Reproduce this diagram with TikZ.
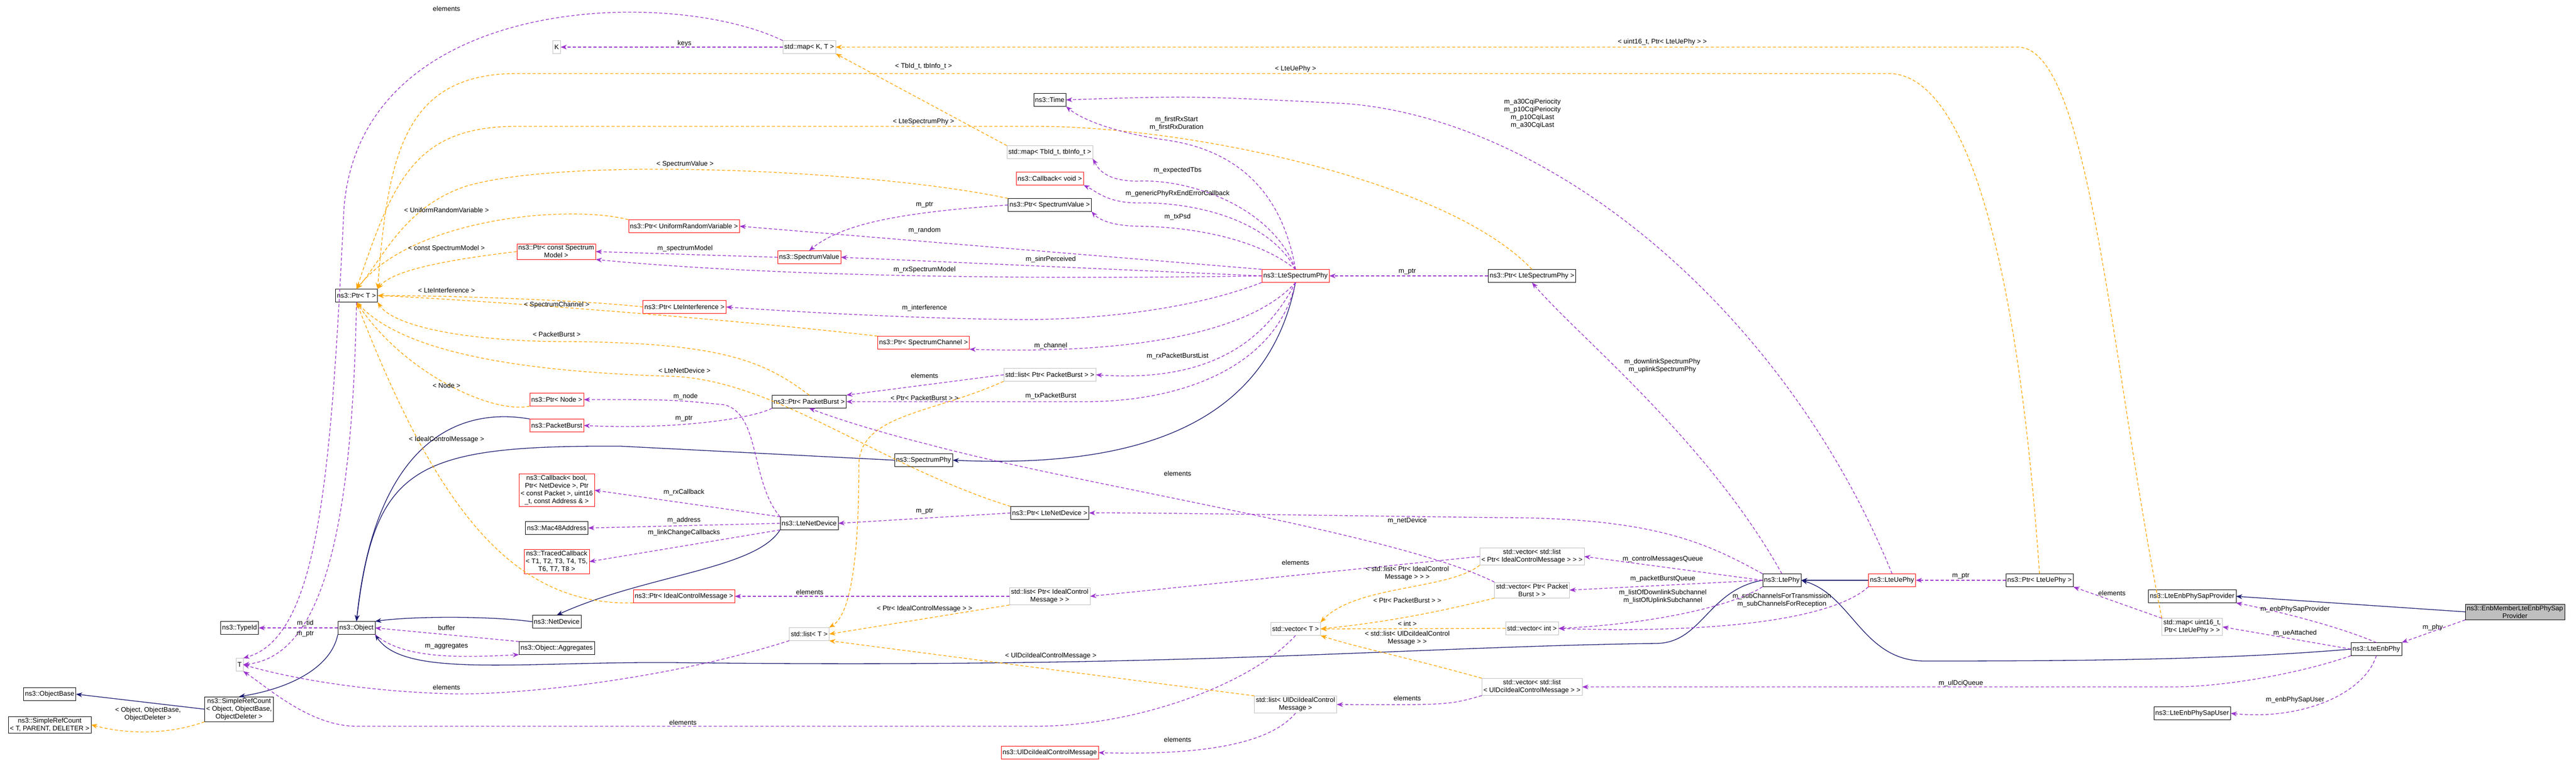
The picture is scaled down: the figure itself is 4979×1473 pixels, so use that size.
\documentclass[tikz,border=0pt]{standalone}
\usepackage{fontspec}
\setmainfont{Liberation Sans}
\usetikzlibrary{arrows.meta, positioning}
\definecolor{usecol}{HTML}{9A32CD}
\definecolor{tplcol}{HTML}{FFA500}
\definecolor{inhcol}{HTML}{191970}
\definecolor{grayline}{HTML}{BFBFBF}
\tikzset{
  cls/.style={draw=black, fill=white, inner sep=3pt, minimum height=25pt, align=center, font=\fontsize{13}{15}\selectfont},
  redcls/.style={cls, draw=red},
  tplcls/.style={cls, draw=grayline},
  focus/.style={cls, fill=grayline},
  lbl/.style={inner sep=0pt, align=center, font=\fontsize{13}{15}\selectfont},
  use/.style={draw=usecol, dash pattern=on 6pt off 4pt, line width=1.3pt, -{Stealth[length=12pt,width=9pt]}},
  tpl/.style={draw=tplcol, dash pattern=on 6pt off 4pt, line width=1.3pt, -{Stealth[length=12pt,width=9pt]}},
  inh/.style={draw=inhcol, line width=1.3pt, -{Stealth[length=12pt,width=9pt]}}
}
\begin{document}
\begin{tikzpicture}[x=1pt, y=-1pt]
  \useasboundingbox (0,0) rectangle (4979,1473);

  % left column
  \node[tplcls] (K) at (1076,91) {K};
  \node[cls] (PtrT) at (689,571) {ns3::Ptr< T >};
  \node[cls] (TypeId) at (463,1213) {ns3::TypeId};
  \node[tplcls] (T) at (463,1284) {T};
  \node[cls] (Object) at (689,1213) {ns3::Object};
  \node[cls] (ObjBase) at (96,1341) {ns3::ObjectBase};
  \node[cls] (SRCT) at (96,1400) {ns3::SimpleRefCount\\< T, PARENT, DELETER >};
  \node[cls] (SRCO) at (462,1370) {ns3::SimpleRefCount\\< Object, ObjectBase,\\ObjectDeleter >};

  % second column
  \node[redcls] (PCSM) at (1075,486) {ns3::Ptr< const Spectrum\\Model >};
  \node[redcls] (PNode) at (1076,772) {ns3::Ptr< Node >};
  \node[redcls] (PB) at (1076,822) {ns3::PacketBurst};
  \node[redcls] (CbBool) at (1076,947) {ns3::Callback< bool,\\Ptr< NetDevice >, Ptr\\< const Packet >, uint16\\\_t, const Address \& >};
  \node[cls] (Mac) at (1076,1020) {ns3::Mac48Address};
  \node[redcls] (Traced) at (1076,1085) {ns3::TracedCallback\\< T1, T2, T3, T4, T5,\\T6, T7, T8 >};
  \node[cls] (NetDev) at (1076,1201) {ns3::NetDevice};
  \node[cls] (Aggr) at (1076,1252) {ns3::Object::Aggregates};

  % third column
  \node[redcls] (PURV) at (1322,437) {ns3::Ptr< UniformRandomVariable >};
  \node[redcls] (PLI) at (1323,593) {ns3::Ptr< LteInterference >};
  \node[redcls] (PICM) at (1322,1152) {ns3::Ptr< IdealControlMessage >};
  \node[tplcls] (MapKT) at (1564,91) {std::map< K, T >};
  \node[redcls] (SV) at (1564,497) {ns3::SpectrumValue};
  \node[cls] (PPB) at (1564,776) {ns3::Ptr< PacketBurst >};
  \node[cls] (LND) at (1564,1011) {ns3::LteNetDevice};
  \node[tplcls] (ListT) at (1564,1225) {std::list< T >};
  \node[redcls] (PSC) at (1785,662) {ns3::Ptr< SpectrumChannel >};
  \node[cls] (SP) at (1785,889) {ns3::SpectrumPhy};

  % fourth column
  \node[cls] (Time) at (2029,193) {ns3::Time};
  \node[tplcls] (MapTb) at (2029,294) {std::map< TbId\_t, tbInfo\_t >};
  \node[redcls] (CbVoid) at (2029,345) {ns3::Callback< void >};
  \node[cls] (PSV) at (2029,396) {ns3::Ptr< SpectrumValue >};
  \node[tplcls] (ListPPB) at (2029,724) {std::list< Ptr< PacketBurst > >};
  \node[cls] (PLND) at (2029,991) {ns3::Ptr< LteNetDevice >};
  \node[tplcls] (ListPICM) at (2029,1152) {std::list< Ptr< IdealControl\\Message > >};
  \node[redcls] (UlDci) at (2029,1454) {ns3::UlDciIdealControlMessage};
  \node[redcls] (LSP) at (2504,533) {ns3::LteSpectrumPhy};
  \node[tplcls] (VecT) at (2504,1215) {std::vector< T >};
  \node[tplcls] (ListUl) at (2504,1361) {std::list< UlDciIdealControl\\Message >};

  % right part
  \node[cls] (PLSP) at (2961,533) {ns3::Ptr< LteSpectrumPhy >};
  \node[tplcls] (VecLPICM) at (2961,1075) {std::vector< std::list\\< Ptr< IdealControlMessage > > >};
  \node[tplcls] (VecPPB) at (2961,1140) {std::vector< Ptr< Packet\\Burst > >};
  \node[tplcls] (VecInt) at (2961,1214) {std::vector< int >};
  \node[tplcls] (VecLUl) at (2961,1327) {std::vector< std::list\\< UlDciIdealControlMessage > >};
  \node[cls] (LtePhy) at (3444,1121) {ns3::LtePhy};
  \node[redcls] (LUP) at (3657,1121) {ns3::LteUePhy};
  \node[cls] (PLUP) at (3942,1121) {ns3::Ptr< LteUePhy >};
  \node[cls] (SapP) at (4237,1152) {ns3::LteEnbPhySapProvider};
  \node[tplcls] (MapU16) at (4237,1211) {std::map< uint16\_t,\\Ptr< LteUePhy > >};
  \node[cls] (SapU) at (4237,1378) {ns3::LteEnbPhySapUser};
  \node[cls] (LEP) at (4593,1254) {ns3::LteEnbPhy};
  \node[focus] (EM) at (4861,1182) {ns3::EnbMemberLteEnbPhySap\\Provider};

  % inheritance
  \draw[inh] (PB.north west) .. controls (850,780) and (720,900) .. (Object.north);
  \draw[inh] (SP.west) -- (1200,862) .. controls (800,860) and (725,900) .. (Object.north);
  \draw[inh] (NetDev.west) .. controls (950,1190) and (800,1190) .. (Object.north east);
  \draw[inh] (LtePhy.west) .. controls (3300,1140) and (3290,1243) .. (3200,1243) .. controls (2700,1250) and (2300,1292) .. (1300,1280) .. controls (1000,1278) and (780,1310) .. (Object.south east);
  \draw[inh] (Object.south west) .. controls (640,1290) and (560,1330) .. (SRCO.north);
  \draw[inh] (SRCO.west) -- (ObjBase.east);
  \draw[inh] (LSP.south) .. controls (2450,820) and (2200,905) .. (SP.east);
  \draw[inh] (LND.south west) .. controls (1460,1100) and (1250,1110) .. (NetDev.north);
  \draw[inh] (LUP.west) -- (LtePhy.east);
  \draw[inh] (LEP.west) .. controls (4300,1275) and (4000,1277) .. (3720,1277) .. controls (3600,1277) and (3580,1150) .. (LtePhy.east);
  \draw[inh] (EM.west) -- (SapP.east);

  % templates
  \draw[tpl] (PURV.north west) .. controls (1100,395) and (800,420) .. (PtrT.north);
  \draw[tpl] (PCSM.west) .. controls (880,500) and (760,520) .. (PtrT.north east);
  \draw[tpl] (PLI.west) .. controls (1150,582) and (900,571) .. (PtrT.east);
  \draw[tpl] (PSC.north west) .. controls (1400,615) and (900,578) .. (PtrT.east);
  \draw[tpl] (PPB.north) .. controls (1480,700) and (1400,662) .. (1100,660) .. controls (900,660) and (760,630) .. (PtrT.south east);
  \draw[tpl] (PLND.north west) .. controls (1700,900) and (1500,735) .. (1300,727) .. controls (1000,718) and (780,680) .. (PtrT.south);
  \draw[tpl] (PNode.south west) .. controls (950,800) and (780,720) .. (PtrT.south);
  \draw[tpl] (PICM.south west) .. controls (1000,1170) and (850,1000) .. (PtrT.south);
  \draw[tpl] (PSV.north west) .. controls (1700,330) and (1100,300) .. (900,360) .. controls (780,400) and (740,500) .. (PtrT.north);
  \draw[tpl] (PLSP.north) .. controls (2800,350) and (2300,244) .. (2000,244) -- (1000,244) .. controls (800,244) and (760,350) .. (PtrT.north);
  \draw[tpl] (PLUP.north) .. controls (3900,500) and (3800,142) .. (3650,142) -- (1000,142) .. controls (780,142) and (750,300) .. (PtrT.north east);
  \draw[tpl] (MapTb.north west) -- (MapKT.south east);
  \draw[tpl] (MapU16.north west) .. controls (4080,700) and (4040,91) .. (3900,91) -- (MapKT.east);
  \draw[tpl] (ListPPB.south west) .. controls (1800,800) and (1660,800) .. (1660,900) .. controls (1660,1100) and (1640,1190) .. (ListT.north east);
  \draw[tpl] (ListPICM.south west) -- (ListT.east);
  \draw[tpl] (ListUl.north west) -- (ListT.south east);
  \draw[tpl] (VecLPICM.south west) .. controls (2800,1140) and (2620,1130) .. (VecT.north east);
  \draw[tpl] (VecPPB.south west) .. controls (2750,1190) and (2650,1205) .. (VecT.east);
  \draw[tpl] (VecInt.west) -- (VecT.east);
  \draw[tpl] (VecLUl.north west) .. controls (2720,1270) and (2620,1250) .. (VecT.south east);
  \draw[tpl] (SRCO.south west) .. controls (330,1418) and (250,1420) .. (SRCT.east);

  % usage
  \draw[use] (MapKT.west) -- (K.east);
  \draw[use] (MapKT.north west) .. controls (1300,-25) and (700,-15) .. (665,400) .. controls (640,900) and (620,1230) .. (T.north east);
  \draw[use] (PtrT.south) .. controls (680,1100) and (600,1270) .. (T.east);
  \draw[use] (Object.west) -- (TypeId.east);
  \draw[use] (ListT.south west) .. controls (1300,1310) and (1000,1345) .. (863,1340) .. controls (700,1335) and (560,1310) .. (T.east);
  \draw[use] (VecT.south) .. controls (2420,1320) and (2200,1403) .. (2000,1403) -- (690,1403) .. controls (600,1403) and (520,1330) .. (T.south east);
  \draw[use] (Aggr.north west) -- (Object.east);
  \draw[use] (Object.south east) .. controls (780,1275) and (900,1270) .. (Aggr.south west);
  \draw[use] (SV.west) -- (PCSM.east);
  \draw[use] (LSP.west) .. controls (2000,540) and (1500,535) .. (PCSM.south east);
  \draw[use] (LSP.north west) -- (PURV.east);
  \draw[use] (PSV.west) .. controls (1750,410) and (1630,430) .. (SV.north);
  \draw[use] (LSP.west) -- (SV.east);
  \draw[use] (LSP.south west) .. controls (2300,600) and (2100,620) .. (1950,617) .. controls (1750,615) and (1500,600) .. (PLI.east);
  \draw[use] (LSP.south) .. controls (2420,640) and (2200,685) .. (PSC.south east);
  \draw[use] (LSP.north) .. controls (2480,380) and (2400,290) .. (2250,270) .. controls (2150,255) and (2090,230) .. (Time.south east);
  \draw[use] (LUP.north) .. controls (3450,600) and (3000,230) .. (2600,200) .. controls (2300,185) .. (Time.east);
  \draw[use] (LSP.north) .. controls (2460,400) and (2300,345) .. (2200,350) .. controls (2130,350) and (2120,320) .. (MapTb.south east);
  \draw[use] (LSP.north) .. controls (2450,420) and (2300,390) .. (2200,392) .. controls (2140,392) and (2120,370) .. (CbVoid.south east);
  \draw[use] (LSP.north) .. controls (2430,460) and (2300,438) .. (2200,437) .. controls (2140,436) and (2120,420) .. (PSV.south east);
  \draw[use] (LSP.south) .. controls (2450,650) and (2350,740) .. (ListPPB.east);
  \draw[use] (ListPPB.west) -- (PPB.north east);
  \draw[use] (LSP.south) .. controls (2470,700) and (2300,775) .. (2100,776) -- (PPB.east);
  \draw[use] (PPB.south west) .. controls (1450,810) and (1300,830) .. (PB.east);
  \draw[use] (LND.north west) .. controls (1450,930) and (1470,800) .. (1400,782) .. controls (1300,772) .. (PNode.east);
  \draw[use] (VecPPB.north west) .. controls (2700,1030) and (2100,940) .. (1800,860) .. controls (1700,835) and (1620,810) .. (PPB.south);
  \draw[use] (PLSP.west) -- (LSP.east);
  \draw[use] (LtePhy.north) .. controls (3300,850) and (3050,650) .. (PLSP.south);
  \draw[use] (LND.north west) -- (CbBool.east);
  \draw[use] (LND.west) -- (Mac.east);
  \draw[use] (LND.south west) -- (Traced.east);
  \draw[use] (PLND.west) -- (LND.east);
  \draw[use] (LtePhy.north west) .. controls (3300,1050) and (3200,1000) .. (2900,1000) .. controls (2500,995) and (2200,990) .. (PLND.east);
  \draw[use] (ListPICM.west) -- (PICM.east);
  \draw[use] (VecLPICM.west) -- (ListPICM.east);
  \draw[use] (LtePhy.west) -- (VecLPICM.east);
  \draw[use] (LtePhy.west) -- (VecPPB.east);
  \draw[use] (LtePhy.south west) .. controls (3350,1170) and (3200,1205) .. (VecInt.east);
  \draw[use] (LUP.south west) .. controls (3550,1190) and (3350,1225) .. (VecInt.east);
  \draw[use] (PLUP.west) -- (LUP.east);
  \draw[use] (MapU16.north west) -- (PLUP.south east);
  \draw[use] (LEP.south west) .. controls (4450,1300) and (4300,1327) .. (4200,1327) -- (VecLUl.east);
  \draw[use] (VecLUl.south west) .. controls (2800,1362) .. (ListUl.east);
  \draw[use] (ListUl.south) .. controls (2460,1430) and (2350,1460) .. (UlDci.east);
  \draw[use] (LEP.north) .. controls (4520,1210) and (4400,1180) .. (SapP.south east);
  \draw[use] (LEP.west) -- (MapU16.east);
  \draw[use] (LEP.south) .. controls (4570,1340) and (4450,1392) .. (SapU.east);
  \draw[use] (EM.south west) -- (LEP.north east);

  % edge labels
  \node[lbl] (l1) at (863,17) {elements};
  \node[lbl] (l2) at (1323,84) {keys};
  \node[lbl] (l3) at (1785,128) {< TbId\_t, tbInfo\_t >};
  \node[lbl] (l4) at (2504,133) {< LteUePhy >};
  \node[lbl] (l5) at (3213,81) {< uint16\_t, Ptr< LteUePhy > >};
  \node[lbl] (l6) at (1785,235) {< LteSpectrumPhy >};
  \node[lbl] (l7) at (2274,239) {m\_firstRxStart\\m\_firstRxDuration};
  \node[lbl] (l8) at (2962,220) {m\_a30CqiPeriocity\\m\_p10CqiPeriocity\\m\_p10CqiLast\\m\_a30CqiLast};
  \node[lbl] (l9) at (1324,317) {< SpectrumValue >};
  \node[lbl] (l10) at (2276,329) {m\_expectedTbs};
  \node[lbl] (l11) at (2276,374) {m\_genericPhyRxEndErrorCallback};
  \node[lbl] (l12) at (1787,396) {m\_ptr};
  \node[lbl] (l13) at (2276,419) {m\_txPsd};
  \node[lbl] (l14) at (863,406) {< UniformRandomVariable >};
  \node[lbl] (l15) at (1787,445) {m\_random};
  \node[lbl] (l16) at (863,480) {< const SpectrumModel >};
  \node[lbl] (l17) at (1324,480) {m\_spectrumModel};
  \node[lbl] (l18) at (2031,501) {m\_sinrPerceived};
  \node[lbl] (l19) at (1787,521) {m\_rxSpectrumModel};
  \node[lbl] (l20) at (2720,525) {m\_ptr};
  \node[lbl] (l21) at (863,561) {< LteInterference >};
  \node[lbl] (l22) at (1076,589) {< SpectrumChannel >};
  \node[lbl] (l23) at (1787,595) {m\_interference};
  \node[lbl] (l24) at (1076,646) {< PacketBurst >};
  \node[lbl] (l25) at (2031,668) {m\_channel};
  \node[lbl] (l26) at (2276,688) {m\_rxPacketBurstList};
  \node[lbl] (l27) at (3213,707) {m\_downlinkSpectrumPhy\\m\_uplinkSpectrumPhy};
  \node[lbl] (l28) at (1323,716) {< LteNetDevice >};
  \node[lbl] (l29) at (1787,726) {elements};
  \node[lbl] (l30) at (863,745) {< Node >};
  \node[lbl] (l31) at (1325,766) {m\_node};
  \node[lbl] (l32) at (1787,769) {< Ptr< PacketBurst > >};
  \node[lbl] (l33) at (2031,765) {m\_txPacketBurst};
  \node[lbl] (l34) at (1322,809) {m\_ptr};
  \node[lbl] (l35) at (863,849) {< IdealControlMessage >};
  \node[lbl] (l36) at (2276,915) {elements};
  \node[lbl] (l37) at (1322,951) {m\_rxCallback};
  \node[lbl] (l38) at (1787,988) {m\_ptr};
  \node[lbl] (l39) at (1322,1005) {m\_address};
  \node[lbl] (l40) at (2720,1006) {m\_netDevice};
  \node[lbl] (l41) at (1322,1029) {m\_linkChangeCallbacks};
  \node[lbl] (l42) at (3214,1080) {m\_controlMessagesQueue};
  \node[lbl] (l43) at (2504,1087) {elements};
  \node[lbl] (l44) at (2720,1108) {< std::list< Ptr< IdealControl\\Message > > >};
  \node[lbl] (l45) at (1565,1144) {elements};
  \node[lbl] (l46) at (3214,1118) {m\_packetBurstQueue};
  \node[lbl] (l47) at (3790,1113) {m\_ptr};
  \node[lbl] (l48) at (4082,1146) {elements};
  \node[lbl] (l49) at (3214,1153) {m\_listOfDownlinkSubchannel\\m\_listOfUplinkSubchannel};
  \node[lbl] (l50) at (3444,1160) {m\_subChannelsForTransmission\\m\_subChannelsForReception};
  \node[lbl] (l51) at (2720,1160) {< Ptr< PacketBurst > >};
  \node[lbl] (l52) at (1787,1176) {< Ptr< IdealControlMessage > >};
  \node[lbl] (l53) at (4436,1177) {m\_enbPhySapProvider};
  \node[lbl] (l54) at (590,1204) {m\_tid};
  \node[lbl] (l55) at (2720,1205) {< int >};
  \node[lbl] (l56) at (4702,1212) {m\_phy};
  \node[lbl] (l57) at (863,1213) {buffer};
  \node[lbl] (l58) at (590,1225) {m\_ptr};
  \node[lbl] (l59) at (4436,1223) {m\_ueAttached};
  \node[lbl] (l60) at (2720,1233) {< std::list< UlDciIdealControl\\Message > >};
  \node[lbl] (l61) at (863,1249) {m\_aggregates};
  \node[lbl] (l62) at (2031,1267) {< UlDciIdealControlMessage >};
  \node[lbl] (l63) at (3790,1320) {m\_ulDciQueue};
  \node[lbl] (l64) at (863,1328) {elements};
  \node[lbl] (l65) at (2720,1349) {elements};
  \node[lbl] (l66) at (4436,1352) {m\_enbPhySapUser};
  \node[lbl] (l67) at (286,1380) {< Object, ObjectBase,\\ObjectDeleter >};
  \node[lbl] (l68) at (1320,1396) {elements};
  \node[lbl] (l69) at (2276,1429) {elements};
\end{tikzpicture}
\end{document}
